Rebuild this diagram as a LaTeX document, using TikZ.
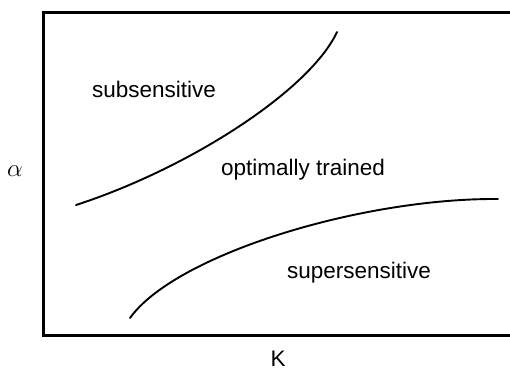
\documentclass[tikz,border=0pt]{standalone}
\usepackage{fontspec}
\setmainfont{Liberation Sans}
\usetikzlibrary{calc, positioning}

\begin{document}
\begin{tikzpicture}[x=1pt,y=-1pt,
  lbl/.style={font=\fontsize{22.5}{27}\selectfont, inner sep=0pt, anchor=base},
  frame/.style={line width=3pt, line cap=rect},
  bound/.style={line width=1.9pt, line cap=round}]
\useasboundingbox (0,0) rectangle (510,372);
\coordinate (TL) at (43,12);
\coordinate (BL) at (43,335);
\coordinate (TR) at (512,12);
\coordinate (BR) at (512,335);

\draw[frame] (TR) -- (TL) -- (BL) -- (BR);

% region boundaries
\coordinate (U0) at (76,205);
\coordinate (U1) at (337,32);
\coordinate (L0) at (130,318);
\coordinate (L1) at (498,199);
\draw[bound] (U0) .. controls (190,168) and (310,90) .. (U1);
\draw[bound] (L0) .. controls (175,255) and (360,198) .. (L1);

\node[lbl] (sub) at (154,97) {subsensitive};
\node[lbl] (opt) at (303,175) {optimally trained};
\node[lbl] (sup) at (359,278) {supersensitive};
\node[lbl] (xlab) at (278,366) {K};
\node[font=\fontsize{24}{28}\selectfont, inner sep=0pt] (ylab) at (15,171) {$\alpha$};
\end{tikzpicture}
\end{document}
